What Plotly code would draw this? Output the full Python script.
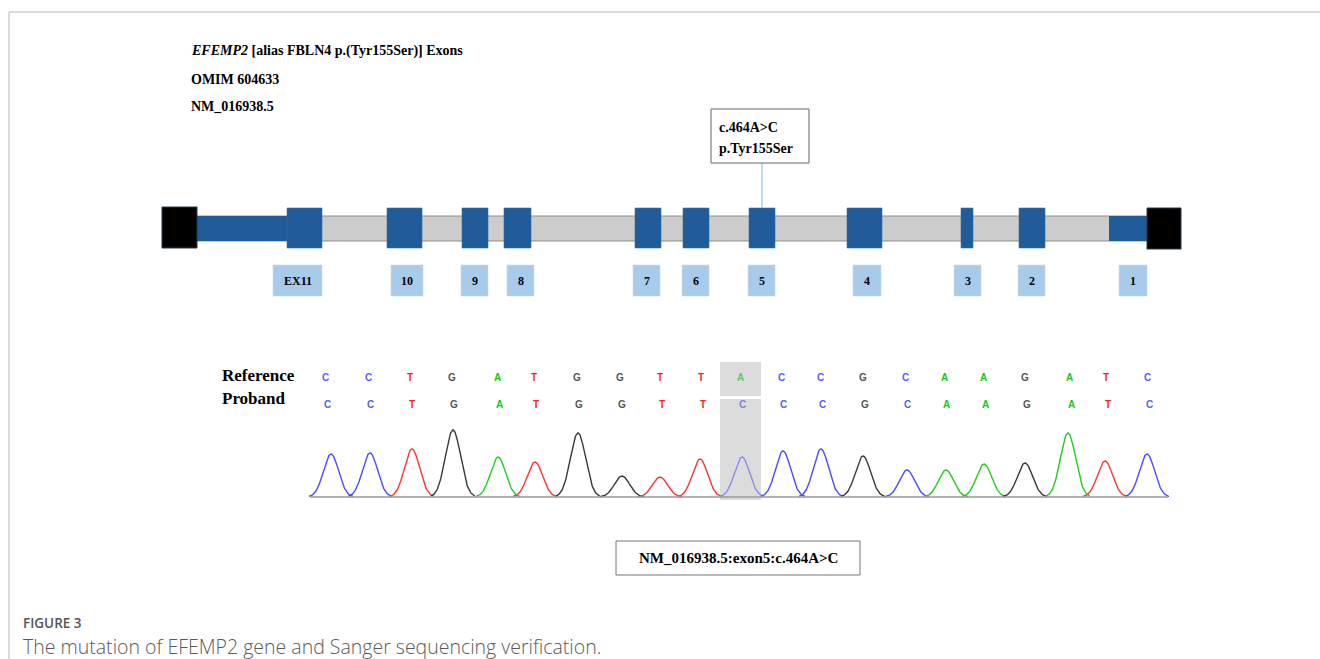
import numpy as np
import plotly.graph_objects as go

W, H = 1320, 659

# ---- gene model (diagram units = px along the drawing) ----
exon_labels = ["EX11", "10", "9", "8", "7", "6", "5", "4", "3", "2", "1"]
exon_start = [287, 387, 462, 504, 635, 683, 749, 847, 961, 1019, None]
exon_end = [322, 422, 488, 531, 661, 709, 775, 882, 973, 1045, None]
label_start = [273, 391, 461, 507, 633, 682, 748, 853, 954, 1018, 1119]
label_end = [322, 423, 488, 534, 660, 709, 775, 881, 981, 1045, 1147]
utr_left = (197, 288)
utr_right = (1109, 1147)
cap_left = (162, 197)
cap_right = (1147, 1181)
intron_span = (197, 1148)
mutated_exon = "5"

# ---- Sanger read ----
ref_bases = list("CCTGATGGTTACCGCAAGATC")
proband_bases = list("CCTGATGGTTCCCGCAAGATC")
base_pos = [325, 368, 410, 452, 497, 534, 577, 620, 660, 701, 740,
            781, 820, 863, 905, 944, 983, 1025, 1069, 1106, 1147]
peak_pos = [331, 370, 412, 453, 498, 535, 578, 622, 660, 700, 742,
            783, 821, 863, 907, 946, 984, 1025, 1068, 1105, 1147]
peak_height = [43, 44, 48, 67, 40, 35, 64, 21, 20, 38, 40,
               46, 48, 41, 27, 27, 33, 34, 64, 36, 43]
variant_index = 10

base_color = {"C": "#5a5aff", "T": "#ff1f1f", "G": "#555555", "A": "#12c812"}
base_color_soft = {"C": "#8080e0", "T": "#f07a7a", "G": "#888888", "A": "#66c466"}
trace_color = {"C": "#4b4bff", "T": "#ff3535", "G": "#3a3a3a", "A": "#22cc22"}

SERIF = "Liberation Serif"
EXON_BLUE = "#1f5c99"

fig = go.Figure()
shapes = []
annotations = []


def rect(x0, x1, y0, y1, fill, line_color=None, line_w=0, layer="above"):
    shapes.append(dict(type="rect", xref="x", yref="y", x0=x0, x1=x1, y0=y0, y1=y1,
                       fillcolor=fill, layer=layer,
                       line=dict(color=line_color or fill, width=line_w)))


def text(x, y, s, size, color="#000", family=SERIF, xanchor="left", weight=None):
    font = dict(family=family, size=size, color=color)
    if weight:
        font["weight"] = weight
    annotations.append(dict(x=x, y=y, xref="x", yref="y", text=s, showarrow=False,
                            xanchor=xanchor, yanchor="middle", font=font))


# page frame
shapes.append(dict(type="line", xref="x", yref="y", x0=9, x1=W, y0=12, y1=12,
                   line=dict(color="#cfcfcf", width=1.5)))
shapes.append(dict(type="line", xref="x", yref="y", x0=9, x1=9, y0=12, y1=H,
                   line=dict(color="#cfcfcf", width=1.5)))

# header
text(189, 51, "<b><i>EFEMP2</i> [alias FBLN4 p.(Tyr155Ser)] Exons</b>", 14)
text(189, 79, "<b>OMIM 604633</b>", 14)
text(189, 106, "<b>NM_016938.5</b>", 14)

# intron backbone
rect(intron_span[0], intron_span[1], 216, 241, "#cccccc", "#8f8f8f", 1)
# UTRs
rect(utr_left[0], utr_left[1], 216, 241, EXON_BLUE)
rect(utr_right[0], utr_right[1], 216, 241, EXON_BLUE)
# end caps
rect(cap_left[0], cap_left[1], 207, 248, "#000000", "#2a3a4a", 1)
rect(cap_right[0], cap_right[1], 208, 249, "#000000", "#2a3a4a", 1)

# coding exons and their number tags
for lab, s, e, ls, le in zip(exon_labels, exon_start, exon_end, label_start, label_end):
    if s is not None:
        rect(s, e, 208, 248, EXON_BLUE, "#3a6fa5", 0.6)
    rect(ls, le, 265, 296, "#a8caeb", "#c2dbf2", 0.6)
    text((ls + le) / 2, 281, f"<b>{lab}</b>", 12, xanchor="center")

# variant callout
k = exon_labels.index(mutated_exon)
cx = (exon_start[k] + exon_end[k]) / 2
shapes.append(dict(type="line", xref="x", yref="y", x0=cx, x1=cx, y0=163, y1=208,
                   line=dict(color="#7fb2da", width=1)))
rect(711, 809, 109, 163, "#ffffff", "#666666", 1)
text(717, 127, "<b>c.464A>C</b>", 14)
text(717, 148, "<b>p.Tyr155Ser</b>", 14)

# sequence rows
text(220, 375, "<b>Reference</b>", 17)
text(220, 398, "<b>Proband</b>", 17)

rect(720, 761, 362, 396, "#dcdcdc", layer="below")
rect(720, 761, 399, 500, "#dcdcdc", layer="below")

for i, (r, p, x) in enumerate(zip(ref_bases, proband_bases, base_pos)):
    pal = base_color_soft if i == variant_index else base_color
    text(x, 377, f"<b>{r}</b>", 10, pal[r], "Liberation Sans", "center")
    text(x + 2, 404, f"<b>{p}</b>", 10, pal[p], "Liberation Sans", "center")

# chromatogram baseline
shapes.append(dict(type="line", xref="x", yref="y", x0=310, x1=1168, y0=497, y1=497,
                   line=dict(color="#9a9a9a", width=1.5)))

# chromatogram peaks on an intensity axis
sigma = 7.6
for i, (b, px, h) in enumerate(zip(proband_bases, peak_pos, peak_height)):
    xs = np.linspace(px - 22, px + 22, 90)
    ys = h * np.exp(-0.5 * ((xs - px) / sigma) ** 2)
    col = "#8a8aee" if i == variant_index else trace_color[b]
    fig.add_trace(go.Scatter(x=xs, y=ys, mode="lines", xaxis="x", yaxis="y2",
                             line=dict(color=col, width=1.4), hoverinfo="skip",
                             showlegend=False))

# HGVS label
rect(616, 860, 541, 575, "#ffffff", "#777777", 1)
text(738, 558, "<b>NM_016938.5:exon5:c.464A>C</b>", 15, xanchor="center")

# caption
text(21, 623, "FIGURE 3", 13.5, "#555555", "Open Sans", weight=600)
text(21, 646, "The mutation of EFEMP2 gene and Sanger sequencing verification.", 19.5,
     "#5a5a5a", "Open Sans", weight=300)

y2_bottom_px, y2_top_px = 507, 397
fig.update_layout(
    width=W, height=H, margin=dict(l=0, r=0, t=0, b=0),
    paper_bgcolor="white", plot_bgcolor="rgba(0,0,0,0)",
    xaxis=dict(range=[0, W], visible=False, fixedrange=True),
    yaxis=dict(range=[H, 0], visible=False, fixedrange=True),
    yaxis2=dict(range=[-10, 100], visible=False, anchor="x", fixedrange=True,
                domain=[(H - y2_bottom_px) / H, (H - y2_top_px) / H]),
    shapes=shapes, annotations=annotations, showlegend=False,
)

fig.write_html("out.html")
